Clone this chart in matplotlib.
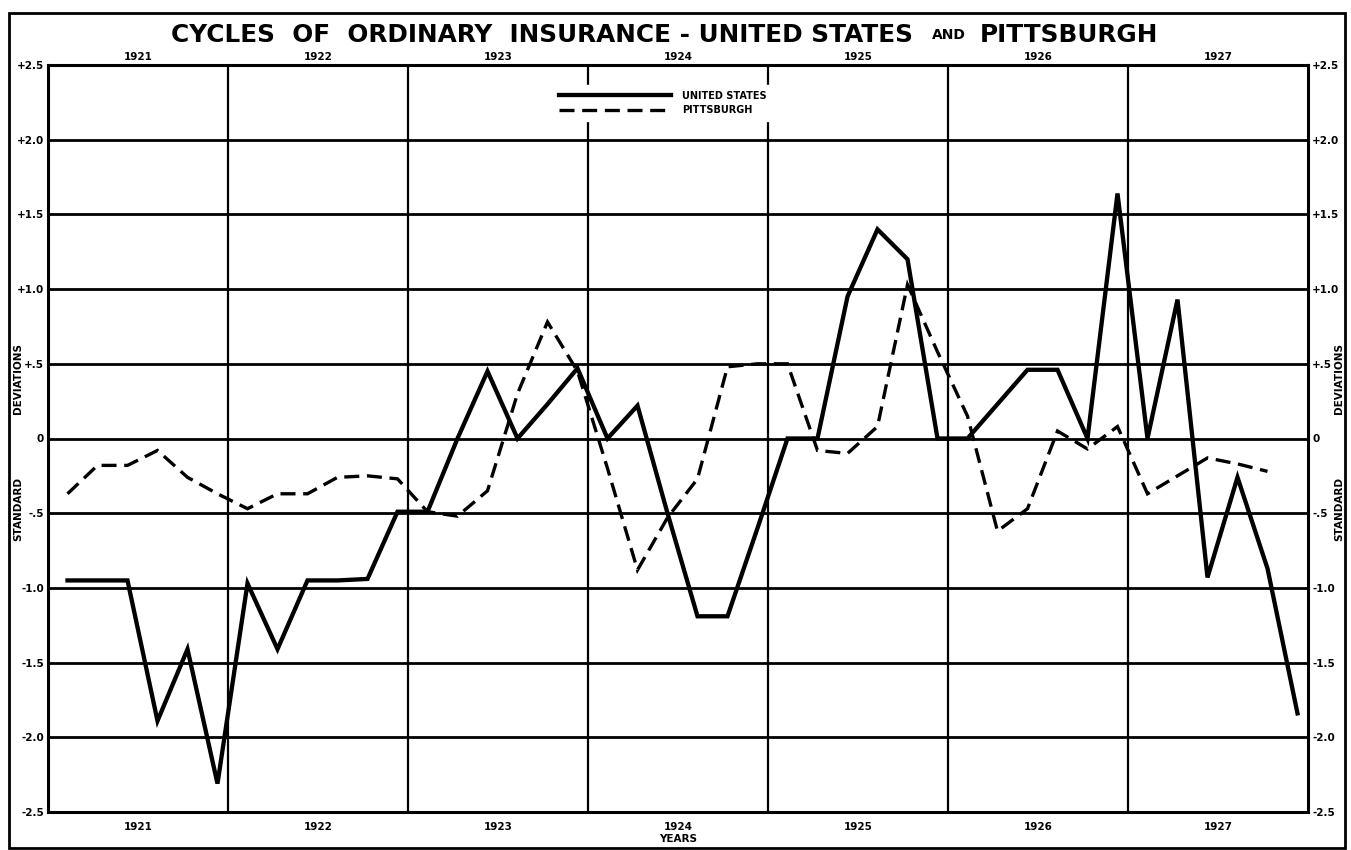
import matplotlib
matplotlib.use("Agg")
import matplotlib.pyplot as plt
import numpy as np
from matplotlib.patches import Rectangle
import matplotlib.transforms as mtransforms

# ---------------- data ----------------
years = [1921, 1922, 1923, 1924, 1925, 1926, 1927]
periods_per_year = 6  # bi-monthly observations

us_values = [-0.95, -0.95, -0.95, -1.89, -1.41, -2.31,
             -0.97, -1.41, -0.95, -0.95, -0.94, -0.49,
             -0.49, 0.00, 0.45, 0.00, 0.23, 0.47,
             0.00, 0.22, -0.50, -1.19, -1.19, -0.60,
             0.00, 0.00, 0.95, 1.40, 1.20, 0.00,
             0.00, 0.23, 0.46, 0.46, 0.00, 1.64,
             0.00, 0.93, -0.93, -0.26, -0.87, -1.84]

pitt_values = [-0.37, -0.18, -0.18, -0.08, -0.26, -0.37,
               -0.47, -0.37, -0.37, -0.26, -0.25, -0.27,
               -0.49, -0.52, -0.35, 0.30, 0.78, 0.45,
               -0.20, -0.88, -0.53, -0.27, 0.48, 0.50,
               0.50, -0.08, -0.10, 0.08, 1.03, 0.58,
               0.15, -0.62, -0.47, 0.05, -0.07, 0.08,
               -0.37, -0.25, -0.13, -0.17, -0.22]

ytick_values = [2.5, 2.0, 1.5, 1.0, 0.5, 0.0, -0.5, -1.0, -1.5, -2.0, -2.5]
ytick_labels = ["+2.5", "+2.0", "+1.5", "+1.0", "+.5", "0",
                "-.5", "-1.0", "-1.5", "-2.0", "-2.5"]
year_labels = [str(y) for y in years]

title_main = "CYCLES  OF  ORDINARY  INSURANCE - UNITED STATES"
title_and = "AND"
title_end = "PITTSBURGH"

# ---------------- figure ----------------
W, H = 1351, 850
fig = plt.figure(figsize=(W / 100, H / 100), dpi=100)
fig.patch.set_facecolor("white")

ax = fig.add_axes([48 / W, 1 - 812 / H, 1260 / W, 747 / H])
ax.set_xlim(years[0], years[-1] + 1)
ax.set_ylim(-2.5, 2.5)

# grid
for v in ytick_values:
    ax.axhline(v, color="black", lw=2.0, zorder=1)
for yr in years[1:]:
    ax.axvline(yr, color="black", lw=1.6, zorder=1)
for sp in ax.spines.values():
    sp.set_linewidth(2.2)
    sp.set_zorder(2)

# series (bi-monthly, plotted within each period)
x_us = years[0] + (np.arange(len(us_values)) + 0.65) / periods_per_year
x_pitt = years[0] + (np.arange(len(pitt_values)) + 0.65) / periods_per_year
ax.plot(x_us, us_values, color="black", lw=3.1, zorder=3,
        solid_joinstyle="miter", label="UNITED STATES")
ax.plot(x_pitt, pitt_values, color="black", lw=2.4, zorder=3,
        linestyle=(0, (4.5, 2.3)), dash_joinstyle="miter", label="PITTSBURGH")

tick_font = dict(family="DejaVu Sans", weight="bold", size=7.5)

# y ticks both sides
ax.set_yticks(ytick_values)
ax.set_yticklabels(ytick_labels, **tick_font)
ax.tick_params(axis="y", length=0, labelleft=True, labelright=True, pad=3)

# x ticks bottom + top
centers = [y + 0.5 for y in years]
ax.set_xticks(centers)
ax.set_xticklabels(year_labels, **tick_font)
ax.tick_params(axis="x", length=0, pad=7)
sec = ax.secondary_xaxis("top")
sec.set_xticks(centers)
sec.set_xticklabels(year_labels, **tick_font)
sec.tick_params(length=0, pad=2.5)
for sp in sec.spines.values():
    sp.set_visible(False)

ax.set_xlabel("YEARS", fontdict=dict(family="DejaVu Sans", weight="bold", size=7.5),
              labelpad=2)

# "STANDARD DEVIATIONS" split around zero, both sides
lab_font = dict(family="DejaVu Sans", weight="bold", size=7.5)
trans = mtransforms.blended_transform_factory(ax.transAxes, ax.transData)
for xa in ((18 - 48) / 1260, (1339 - 48) / 1260):
    ax.text(xa, 0.40, "DEVIATIONS", rotation=90, transform=trans,
            ha="center", va="center", **lab_font)
    ax.text(xa, -0.47, "STANDARD", rotation=90, transform=trans,
            ha="center", va="center", **lab_font)

# legend
leg = ax.legend(loc="upper center", bbox_to_anchor=(0.488, 0.98),
                prop=dict(family="DejaVu Sans", weight="bold", size=7),
                handlelength=11.5, handletextpad=1.2, labelspacing=0.45,
                borderpad=0.6, frameon=True, fancybox=False, framealpha=1,
                edgecolor="white", facecolor="white")
leg.set_zorder(5)

# title, fitted to the reference widths
renderer = fig.canvas.get_renderer()

def fit_width(t, target_px):
    w = t.get_window_extent(renderer).width
    t.set_fontsize(t.get_fontsize() * target_px / w)

title_font = dict(family="DejaVu Sans", weight="bold")
ty = 1 - 35 / H
t1 = fig.text(913 / W, ty, title_main, ha="right", va="center", fontsize=18, **title_font)
fit_width(t1, 913 - 172)
t2 = fig.text(949 / W, ty, title_and, ha="center", va="center", fontsize=8, **title_font)
fit_width(t2, 34)
t3 = fig.text(980 / W, ty, title_end, ha="left", va="center", fontsize=18, **title_font)
fit_width(t3, 1158 - 980)

# outer frame
fig.add_artist(Rectangle((9 / W, 2 / H), (1345 - 9) / W, (848 - 13) / H,
                         transform=fig.transFigure, fill=False,
                         edgecolor="black", lw=2.0))

fig.savefig("out.png", dpi=100, facecolor="white")
